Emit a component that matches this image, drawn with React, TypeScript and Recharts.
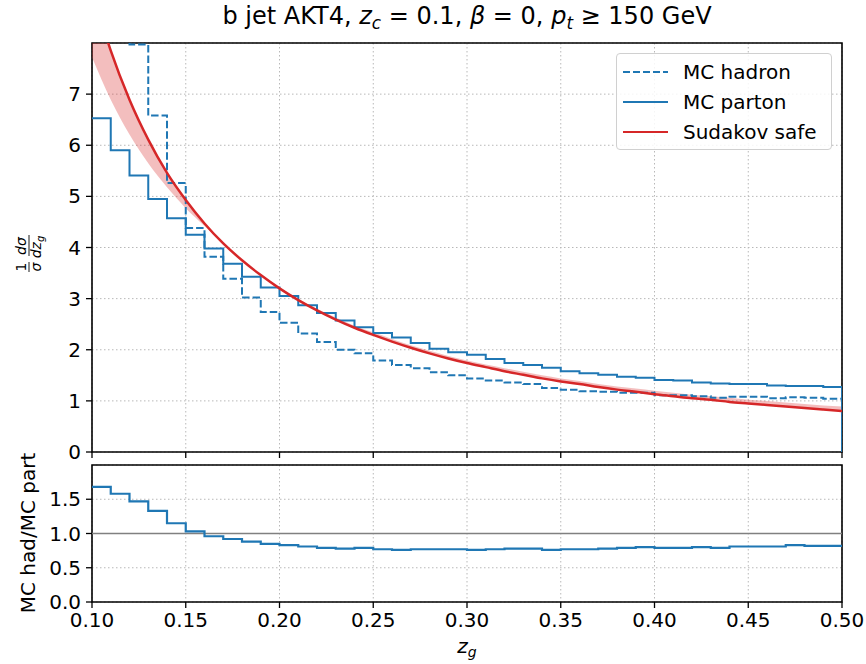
import React from 'react'
import {
  ComposedChart,
  Line,
  Area,
  XAxis,
  YAxis,
  CartesianGrid,
  ReferenceLine,
  ReferenceArea,
} from 'recharts'

const FONT = '"DejaVu Sans", Verdana, sans-serif'
const BLUE = '#1f77b4'
const RED = '#d62728'

// bin edges in z_g (histograms are step-after between these)
const binEdges = [
  0.1, 0.11, 0.12, 0.13, 0.14, 0.15, 0.16, 0.17, 0.18, 0.19, 0.2, 0.21, 0.22, 0.23, 0.24, 0.25,
  0.26, 0.27, 0.28, 0.29, 0.3, 0.31, 0.32, 0.33, 0.34, 0.35, 0.36, 0.37, 0.38, 0.39, 0.4, 0.41,
  0.42, 0.43, 0.44, 0.45, 0.46, 0.47, 0.48, 0.49, 0.5,
]

const partonHeights = [
  6.53, 5.9, 5.41, 4.95, 4.57, 4.25, 3.98, 3.68, 3.43, 3.22, 3.05, 2.87, 2.72, 2.57, 2.44, 2.33,
  2.24, 2.13, 2.02, 1.95, 1.9, 1.82, 1.74, 1.7, 1.65, 1.58, 1.54, 1.51, 1.47, 1.45, 1.41, 1.4,
  1.36, 1.34, 1.33, 1.33, 1.3, 1.29, 1.29, 1.27,
]

const hadronHeights = [
  10.97, 9.32, 7.97, 6.58, 5.26, 4.38, 3.82, 3.39, 3.02, 2.74, 2.53, 2.32, 2.15, 2.0, 1.93, 1.79,
  1.7, 1.64, 1.56, 1.5, 1.44, 1.4, 1.36, 1.33, 1.25, 1.22, 1.19, 1.18, 1.16, 1.16, 1.11, 1.11,
  1.09, 1.06, 1.08, 1.08, 1.05, 1.07, 1.06, 1.04,
]

const ratioHeights = [
  1.68, 1.58, 1.47, 1.33, 1.15, 1.03, 0.96, 0.92, 0.88, 0.85, 0.83, 0.81, 0.79, 0.78, 0.79, 0.77,
  0.76, 0.77, 0.77, 0.77, 0.76, 0.77, 0.78, 0.78, 0.76, 0.77, 0.77, 0.78, 0.79, 0.8, 0.79, 0.79,
  0.8, 0.79, 0.81, 0.81, 0.81, 0.83, 0.82, 0.82,
]

// Sudakov safe curve and the other edge of its band, at the bin edges
const sudakovCentral = [
  9.05, 7.85, 6.89, 6.11, 5.46, 4.93, 4.47, 4.08, 3.75, 3.46, 3.2, 2.97, 2.77, 2.59, 2.43, 2.29,
  2.16, 2.04, 1.93, 1.83, 1.74, 1.66, 1.58, 1.51, 1.44, 1.38, 1.33, 1.27, 1.22, 1.18, 1.13, 1.09,
  1.05, 1.02, 0.98, 0.95, 0.92, 0.89, 0.86, 0.83, 0.8,
]

const sudakovEdge = [
  7.72, 6.89, 6.21, 5.65, 5.18, 4.77, 4.42, 4.06, 3.74, 3.47, 3.22, 3.0, 2.8, 2.63, 2.47, 2.34,
  2.21, 2.09, 1.98, 1.88, 1.79, 1.71, 1.64, 1.57, 1.5, 1.44, 1.39, 1.33, 1.28, 1.24, 1.2, 1.16,
  1.12, 1.09, 1.06, 1.02, 1.0, 0.97, 0.94, 0.91, 0.89,
]

const xTicks = [0.1, 0.15, 0.2, 0.25, 0.3, 0.35, 0.4, 0.45, 0.5]
const mainYTicks = [0, 1, 2, 3, 4, 5, 6, 7]
const ratioYTicks = [0, 0.5, 1, 1.5]

function stepRows(heights: number[], dropToZero: boolean) {
  const rows = binEdges.map((z, i) => ({ z, v: heights[Math.min(i, heights.length - 1)] }))
  if (dropToZero) rows.push({ z: binEdges[binEdges.length - 1], v: 0 })
  return rows
}

const partonRows = stepRows(partonHeights, true)
const hadronRows = stepRows(hadronHeights, true)
const ratioRows = stepRows(ratioHeights, false)

const curveRows = binEdges.map((z, i) => ({
  z,
  central: sudakovCentral[i],
  band: [Math.min(sudakovCentral[i], sudakovEdge[i]), Math.max(sudakovCentral[i], sudakovEdge[i])],
}))

const tickStyle = { fontSize: 20, fill: '#000', fontFamily: FONT }
const gridProps = { stroke: '#b8b8b8', strokeDasharray: '1.5 2.5', strokeWidth: 1 }
const tickLineStyle = { stroke: '#000', strokeWidth: 1.3 }

const subStyle: React.CSSProperties = { fontSize: '0.7em', verticalAlign: '-0.3em', lineHeight: 0 }

// the main panel shares the x axis: tick marks only, no labels
const NoLabel = () => <g />

function Legend() {
  const rows = [
    { name: 'MC hadron', color: BLUE, dash: '7 3' },
    { name: 'MC parton', color: BLUE, dash: undefined },
    { name: 'Sudakov safe', color: RED, dash: undefined },
  ]
  return (
    <div
      style={{
        position: 'absolute',
        left: 616,
        top: 53,
        width: 216,
        height: 97,
        boxSizing: 'border-box',
        border: '1px solid #d0d0d0',
        borderRadius: 4,
        background: 'rgba(255,255,255,0.85)',
        fontFamily: FONT,
        fontSize: 20,
      }}
    >
      {rows.map((r, i) => (
        <div
          key={r.name}
          style={{ position: 'absolute', left: 6, top: 4 + i * 30, height: 28, display: 'flex', alignItems: 'center' }}
        >
          <svg width={45} height={6} style={{ display: 'block' }}>
            <line x1={0} y1={3} x2={45} y2={3} stroke={r.color} strokeWidth={2} strokeDasharray={r.dash} />
          </svg>
          <span style={{ marginLeft: 15, whiteSpace: 'nowrap' }}>{r.name}</span>
        </div>
      ))}
    </div>
  )
}

export default function App() {
  return (
    <div style={{ position: 'absolute', left: 0, top: 0, width: 866, height: 664, background: '#fff', fontFamily: FONT }}>
      <div
        style={{
          position: 'absolute',
          left: 92,
          width: 750,
          top: 2,
          textAlign: 'center',
          fontSize: 24,
          whiteSpace: 'nowrap',
        }}
      >
        b jet AKT4, <i>z</i>
        <sub style={subStyle}>
          <i>c</i>
        </sub>{' '}
        = 0.1, <i>β</i> = 0, <i>p</i>
        <sub style={subStyle}>
          <i>t</i>
        </sub>{' '}
        ≥ 150 GeV
      </div>

      <div style={{ position: 'absolute', left: 0, top: 0 }}>
        <ComposedChart width={866} height={470} margin={{ top: 43, right: 24, bottom: 10, left: 0 }}>
          <CartesianGrid {...gridProps} />
          <XAxis
            type="number"
            dataKey="z"
            domain={[0.1, 0.5]}
            ticks={xTicks}
            interval={0}
            allowDataOverflow
            height={8}
            tick={NoLabel}
            tickSize={6}
            axisLine={false}
            tickLine={tickLineStyle}
          />
          <YAxis
            type="number"
            domain={[0, 8]}
            ticks={mainYTicks}
            interval={0}
            allowDataOverflow
            width={92}
            tickSize={6}
            tickMargin={5}
            tick={tickStyle}
            axisLine={false}
            tickLine={tickLineStyle}
          />
          <ReferenceArea x1={0.1} x2={0.5} y1={0} y2={8} fill="none" stroke="#000" strokeWidth={1.6} />
          <Line
            data={hadronRows}
            dataKey="v"
            type="stepAfter"
            stroke={BLUE}
            strokeWidth={2}
            strokeDasharray="7.5 3"
            dot={false}
            isAnimationActive={false}
          />
          <Line
            data={partonRows}
            dataKey="v"
            type="stepAfter"
            stroke={BLUE}
            strokeWidth={2}
            dot={false}
            isAnimationActive={false}
          />
          <Area
            data={curveRows}
            dataKey="band"
            type="monotone"
            stroke="none"
            fill={RED}
            fillOpacity={0.3}
            isAnimationActive={false}
          />
          <Line
            data={curveRows}
            dataKey="central"
            type="monotone"
            stroke={RED}
            strokeWidth={2.5}
            dot={false}
            isAnimationActive={false}
          />
        </ComposedChart>
      </div>

      <div style={{ position: 'absolute', left: 0, top: 460 }}>
        <ComposedChart width={866} height={204} margin={{ top: 5, right: 24, bottom: 0, left: 0 }}>
          <CartesianGrid {...gridProps} />
          <XAxis
            type="number"
            dataKey="z"
            domain={[0.1, 0.5]}
            ticks={xTicks}
            interval={0}
            allowDataOverflow
            height={62}
            tickSize={6}
            tickMargin={5}
            tick={tickStyle}
            tickFormatter={(v: number) => v.toFixed(2)}
            axisLine={false}
            tickLine={tickLineStyle}
          />
          <YAxis
            type="number"
            domain={[0, 2]}
            ticks={ratioYTicks}
            interval={0}
            allowDataOverflow
            width={92}
            tickSize={6}
            tickMargin={5}
            tick={tickStyle}
            tickFormatter={(v: number) => v.toFixed(1)}
            axisLine={false}
            tickLine={tickLineStyle}
          />
          <ReferenceLine y={1} stroke="#808080" strokeWidth={1.6} />
          <ReferenceArea x1={0.1} x2={0.5} y1={0} y2={2} fill="none" stroke="#000" strokeWidth={1.6} />
          <Line
            data={ratioRows}
            dataKey="v"
            type="stepAfter"
            stroke={BLUE}
            strokeWidth={2.2}
            dot={false}
            isAnimationActive={false}
          />
        </ComposedChart>
      </div>

      {/* y label of the main panel: 1/sigma dsigma/dz_g */}
      <svg width={50} height={80} style={{ position: 'absolute', left: 2, top: 212 }}>
        <g transform="translate(27,40) rotate(-90)" fontFamily={FONT} fontSize={14} fill="#000">
          <text x={-15} y={-3} textAnchor="middle">1</text>
          <line x1={-20} x2={-10} y1={0} y2={0} stroke="#000" strokeWidth={0.9} />
          <text x={-15} y={12} textAnchor="middle" fontStyle="italic">σ</text>
          <text x={6} y={-3} textAnchor="middle" fontStyle="italic">dσ</text>
          <line x1={-4} x2={17} y1={0} y2={0} stroke="#000" strokeWidth={0.9} />
          <text x={5} y={12} textAnchor="middle" fontStyle="italic">
            dz
            <tspan fontSize={10} dy={3}>g</tspan>
          </text>
        </g>
      </svg>

      {/* y label of the ratio panel */}
      <svg width={50} height={200} style={{ position: 'absolute', left: 0, top: 433 }}>
        <text
          transform="translate(28,100) rotate(-90)"
          textAnchor="middle"
          dominantBaseline="central"
          fontFamily={FONT}
          fontSize={20}
          fill="#000"
        >
          MC had/MC part
        </text>
      </svg>

      <div style={{ position: 'absolute', left: 92, width: 750, top: 634, textAlign: 'center', fontSize: 20 }}>
        <i>z</i>
        <sub style={subStyle}>
          <i>g</i>
        </sub>
      </div>

      <Legend />
    </div>
  )
}
